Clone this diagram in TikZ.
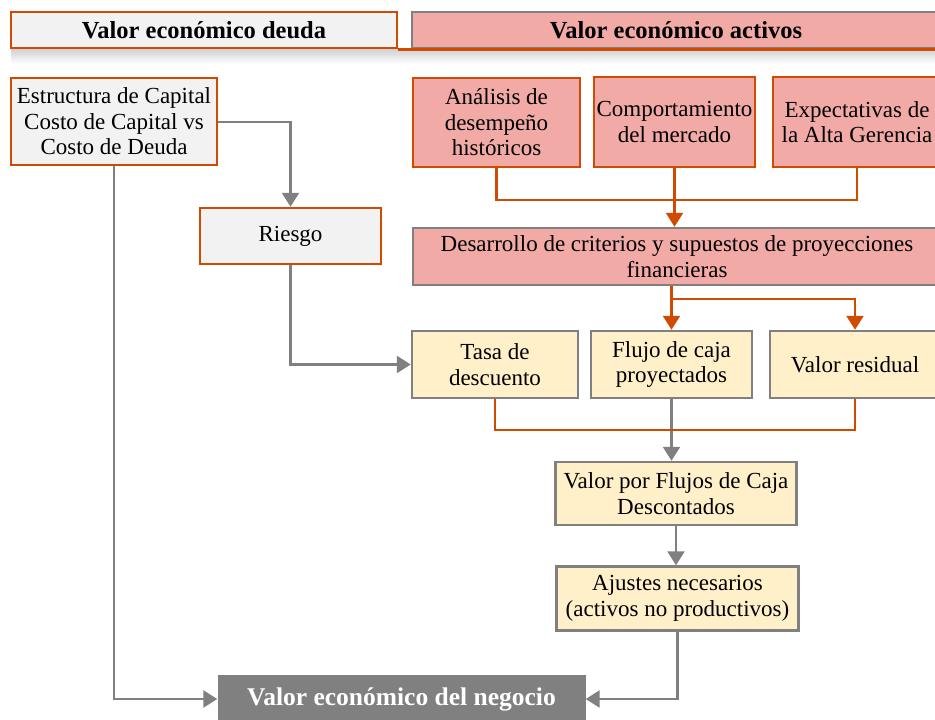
\documentclass[tikz,border=0pt]{standalone}
\usepackage{fontspec}
\setmainfont{Liberation Serif}
\usetikzlibrary{arrows.meta}
\definecolor{burntorange}{RGB}{208,74,2}
\definecolor{rosefill}{RGB}{241,170,165}
\definecolor{creamfill}{RGB}{255,240,201}
\definecolor{paperfill}{RGB}{242,242,242}
\definecolor{edgegray}{RGB}{128,128,128}

\begin{document}
\begin{tikzpicture}[x=1pt, y=-1pt, every node/.style={font=\fontsize{23}{25.5}\selectfont}]
    \useasboundingbox (0,0) rectangle (935,720);
    % Define styles
    \tikzstyle{deudabox} = [rectangle, inner sep=0pt, align=center, draw=burntorange, fill=paperfill, line width=2.5pt]
    \tikzstyle{activobox} = [rectangle, inner sep=0pt, align=center, draw=burntorange, fill=rosefill, line width=2.5pt]
    \tikzstyle{criteriobox} = [rectangle, inner sep=0pt, align=center, draw=edgegray, fill=rosefill, line width=2.5pt]
    \tikzstyle{flujobox} = [rectangle, inner sep=0pt, align=center, draw=edgegray, fill=creamfill, line width=2.5pt]
    \tikzstyle{resultbox} = [rectangle, inner sep=0pt, align=center, fill=edgegray, text=white, font=\fontsize{25.5}{28}\selectfont\bfseries]
    \tikzstyle{headfont} = [font=\fontsize{24.5}{28}\selectfont\bfseries]
    \tikzstyle{grayarrow} = [draw=edgegray, line width=2.5pt, -{Triangle[width=17pt,length=14pt]}]
    \tikzstyle{orangearrow} = [draw=burntorange, line width=2.5pt, -{Triangle[width=17pt,length=14pt]}]
    \tikzstyle{orangeline} = [draw=burntorange, line width=2.5pt]

    % Headers
    \shade[top color=black!18, bottom color=white] (11,49) rectangle (935,64);
    \node (hdeuda) [deudabox, headfont, minimum width=386, minimum height=36] at (204,30) {Valor económico deuda};
    \node (hactivos) [criteriobox, minimum width=536, minimum height=36] at (680,30) {};
    \node (hactivostxt) [headfont] at (676,30) {Valor económico activos};
    \draw [orangeline] (hdeuda.south east) -- (hactivos.south east);

    % Debt side
    \node (estructura) [deudabox, minimum width=206, minimum height=87] at (114,121.5) {Estructura de Capital\\Costo de Capital vs\\Costo de Deuda};
    \node (riesgo) [deudabox, minimum width=181, minimum height=56] at (290.5,236) {Riesgo};

    % Asset side
    \node (analisis) [activobox, minimum width=167, minimum height=89] at (496.5,122.5) {Análisis de\\desempeño\\históricos};
    \node (comport) [activobox, minimum width=161, minimum height=90] at (674.5,122) {Comportamiento\\del mercado};
    \node (expect) [activobox, minimum width=168, minimum height=90] at (857,122) {Expectativas de\\la Alta Gerencia};
    \node (desarrollo) [criteriobox, minimum width=528, minimum height=57] at (677,256.5) {Desarrollo de criterios y supuestos de proyecciones\\financieras};
    \node (tasa) [flujobox, minimum width=166, minimum height=67] at (495,364.5) {Tasa de\\descuento};
    \node (flujo) [flujobox, minimum width=161, minimum height=67] at (671.5,364.5) {Flujo de caja\\proyectados};
    \node (residual) [flujobox, minimum width=170, minimum height=67] at (855,364.5) {Valor residual};
    \node (vpfc) [flujobox, minimum width=241, minimum height=63] at (676,493.5) {Valor por Flujos de Caja\\Descontados};
    \node (ajustes) [flujobox, minimum width=242, minimum height=64] at (677.5,598.5) {Ajustes necesarios\\(activos no productivos)};

    % Result
    \node (negocio) [resultbox, minimum width=368, minimum height=48] at (401.5,699) {Valor económico del negocio};

    % Debt connectors
    \draw [grayarrow] (estructura.east |- 0,122) -| (riesgo.north);
    \draw [grayarrow] (riesgo.south) |- (tasa.west);
    \draw [grayarrow] (estructura.south) |- (negocio.west);

    % Asset connectors
    \draw [orangeline] (analisis.south) |- (expect.south |- 0,200) -- (expect.south);
    \draw [orangearrow] (comport.south) -- (comport.south |- desarrollo.north);
    \draw [orangearrow] (desarrollo.south -| flujo.north) -- (flujo.north);
    \draw [orangearrow] (flujo.north |- 0,299) -| (residual.north);
    \draw [grayarrow] (flujo.south) -- (flujo.south |- vpfc.north);
    \draw [orangeline] (tasa.south) |- (residual.south |- 0,430) -- (residual.south);
    \draw [grayarrow] (vpfc.south) -- (vpfc.south |- ajustes.north);
    \draw [grayarrow] (ajustes.south) |- (negocio.east);
\end{tikzpicture}
\end{document}
